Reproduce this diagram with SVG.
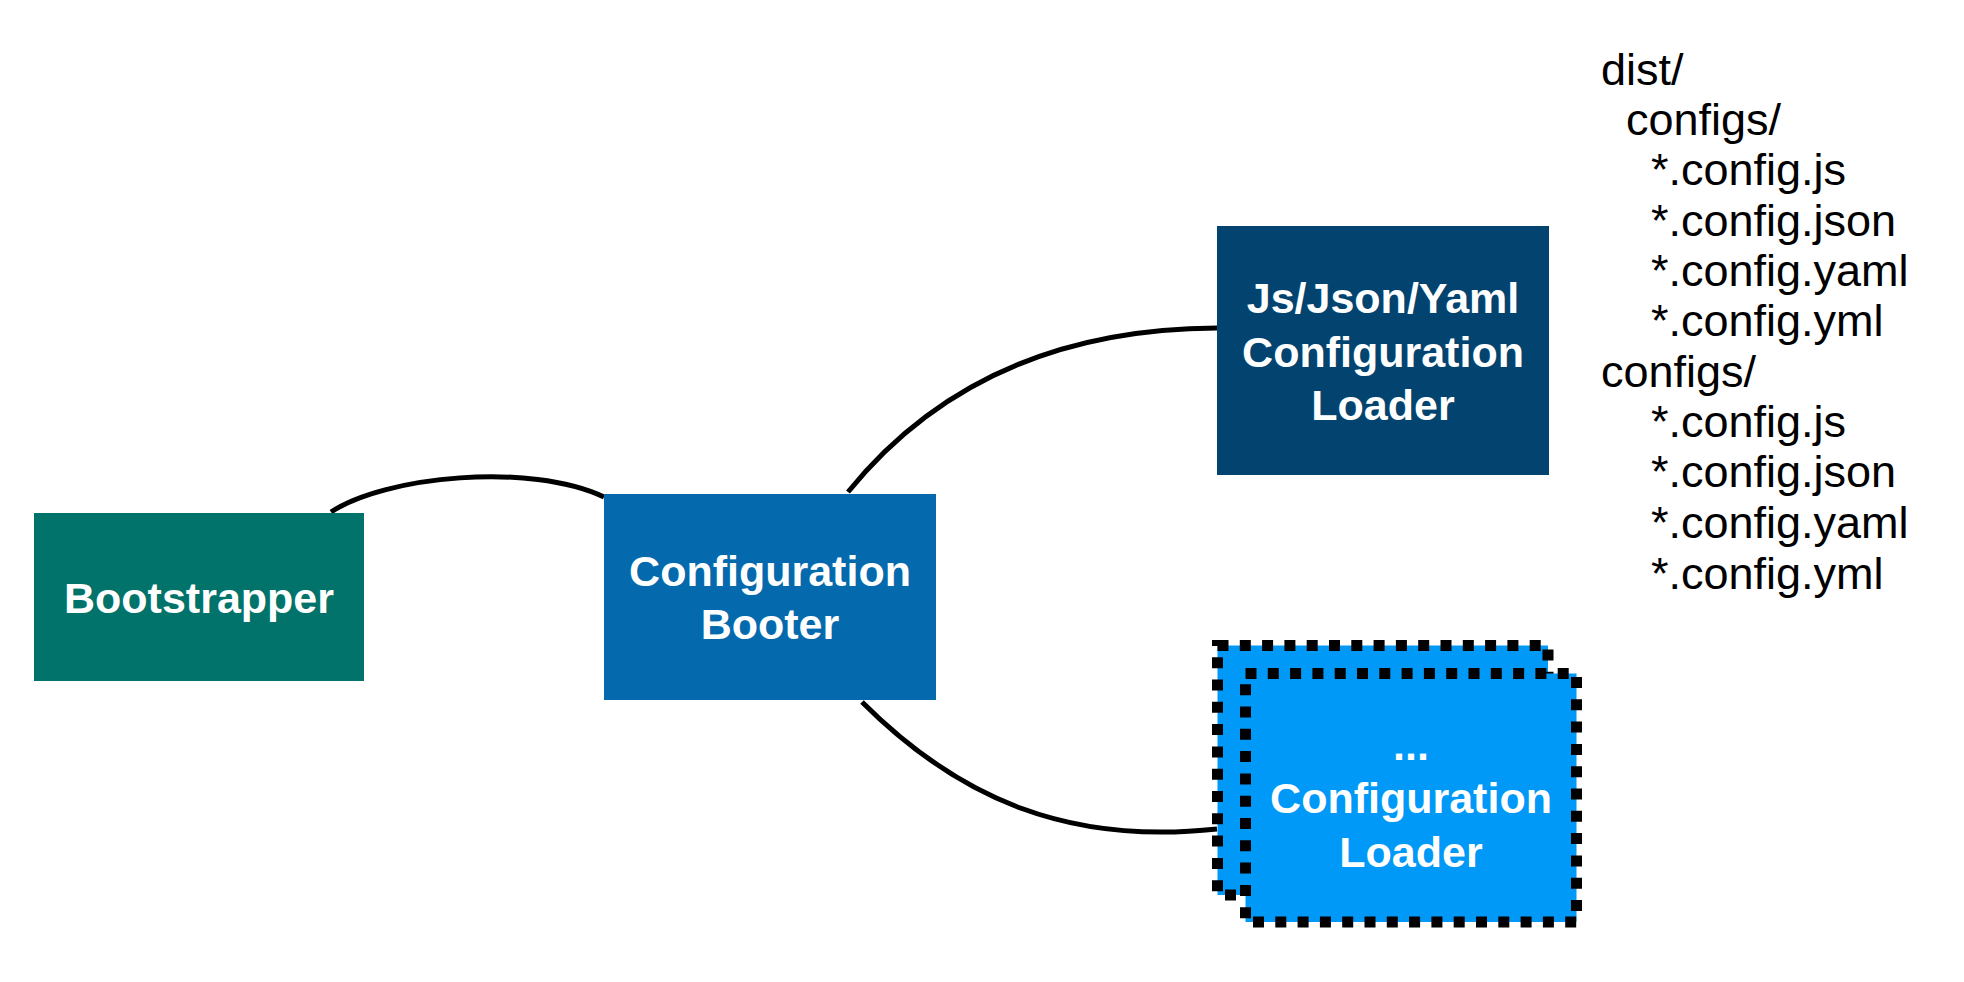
<svg xmlns="http://www.w3.org/2000/svg" width="1964" height="982" viewBox="0 0 1964 982">
<style>
.lbl{font-family:"Liberation Sans",Arial,sans-serif;font-weight:bold;font-size:43px;fill:#fff;text-anchor:middle}
.list{font-family:"Liberation Sans",Arial,sans-serif;font-size:45px;fill:#000}
.conn{fill:none;stroke:#000;stroke-width:5}
.dot{fill:#0099f7;stroke:#000;stroke-width:11;stroke-dasharray:11 11.3}
</style>
<rect width="1964" height="982" fill="#fff"/>
<g id="connectors">
<path class="conn" d="M331,512 C385,476 530,462 604,497"/>
<path class="conn" d="M848,492 Q980,329 1217,328"/>
<path class="conn" d="M862,702 C960,800 1070,845 1217,829"/>
</g>
<g id="bootstrapper">
<rect x="34" y="513" width="330" height="168" fill="#02736a"/>
<text class="lbl" x="199" y="613">Bootstrapper</text>
</g>
<g id="configuration-booter">
<rect x="604" y="494" width="332" height="206" fill="#046aad"/>
<text class="lbl" x="770" y="586">Configuration</text>
<text class="lbl" x="770" y="639">Booter</text>
</g>
<g id="js-json-yaml-loader">
<rect x="1217" y="226" width="332" height="249" fill="#02446f"/>
<text class="lbl" x="1383" y="313">Js/Json/Yaml</text>
<text class="lbl" x="1383" y="367">Configuration</text>
<text class="lbl" x="1383" y="420">Loader</text>
</g>
<g id="other-loader">
<rect class="dot" x="1217.5" y="645.5" width="330.5" height="249.5"/>
<rect class="dot" x="1245.5" y="673.5" width="331" height="248.5"/>
<text class="lbl" x="1411" y="760">...</text>
<text class="lbl" x="1411" y="813">Configuration</text>
<text class="lbl" x="1411" y="867">Loader</text>
</g>
<g id="file-list">
<text class="list" x="1601" y="85">dist/</text>
<text class="list" x="1626" y="135">configs/</text>
<text class="list" x="1651" y="185">*.config.js</text>
<text class="list" x="1651" y="236">*.config.json</text>
<text class="list" x="1651" y="286">*.config.yaml</text>
<text class="list" x="1651" y="336">*.config.yml</text>
<text class="list" x="1601" y="387">configs/</text>
<text class="list" x="1651" y="437">*.config.js</text>
<text class="list" x="1651" y="487">*.config.json</text>
<text class="list" x="1651" y="538">*.config.yaml</text>
<text class="list" x="1651" y="589">*.config.yml</text>
</g>
</svg>
